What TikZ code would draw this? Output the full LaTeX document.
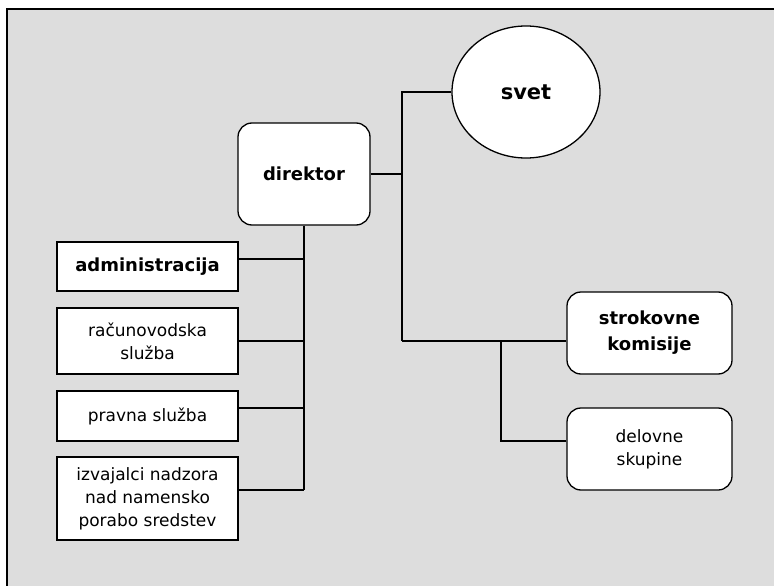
\documentclass[tikz,border=0pt]{standalone}
\usepackage{fontspec}
\setmainfont{DejaVu Sans}
\usetikzlibrary{positioning,shapes.geometric}
\definecolor{panelgray}{RGB}{221,221,221}

\begin{document}
\begin{tikzpicture}[
  x=1pt, y=1pt,
  line width=1.3pt,
  roundbox/.style={draw=black, fill=white, rounded corners=14pt, align=center, inner sep=0pt},
  plainbox/.style={draw=black, fill=white, align=center, inner sep=0pt, minimum width=181pt},
  ovalbox/.style={ellipse, draw=black, fill=white, inner sep=0pt, minimum width=148pt, minimum height=132pt},
  normtext/.style={font=\fontsize{17}{23}\selectfont},
  boldtext/.style={font=\fontsize{18}{26}\selectfont\bfseries},
  link/.style={line width=1.2pt}
]
\useasboundingbox (0,0) rectangle (774,-586);
\clip (0,0) rectangle (774,-586);

% background panel
\draw[fill=panelgray, line width=1.4pt] (7,-9) rectangle (790,-600);

% director and council
\node[roundbox, boldtext, minimum width=132pt, minimum height=102pt] (direktor) at (304,-174) {direktor};
\node[ovalbox, font=\fontsize{21}{25}\selectfont\bfseries, right of=direktor, node distance=222pt, yshift=82pt] (svet) {svet};

% right branch
\node[roundbox, boldtext, minimum width=165pt, minimum height=82pt, right of=direktor, node distance=345.5pt, yshift=-159pt] (strokovne) {strokovne\\komisije};
\node[roundbox, normtext, minimum width=165pt, minimum height=82pt, below of=strokovne, node distance=116pt] (delovne) {delovne\\skupine};

% left branch
\node[plainbox, boldtext, minimum height=49pt, left of=direktor, node distance=156.5pt, yshift=-92.5pt] (admin) {administracija};
\node[plainbox, normtext, minimum height=66pt, below of=admin, node distance=74.5pt] (racun) {računovodska\\služba};
\node[plainbox, normtext, minimum height=50pt, below of=racun, node distance=75pt] (pravna) {pravna služba};
\node[plainbox, normtext, minimum height=83pt, below of=pravna, node distance=82.5pt] (izvajalci) {izvajalci nadzora\\nad namensko\\porabo sredstev};

\coordinate (branch) at (402,-341);
\coordinate (subbranch) at (501,-341);
\coordinate (spine) at (304,-490);

% connectors
\draw[link] (svet.west) -| (branch);
\draw[link] (direktor.east) -| (branch);
\draw[link] (branch) -- ([yshift=-8pt]strokovne.west);
\draw[link] ([yshift=8pt]delovne.west) -| (subbranch);

\draw[link] (direktor.south) -- (spine);
\draw[link] ([yshift=7.5pt]admin.east) -| (spine);
\draw[link] (racun.east) -| (spine);
\draw[link] ([yshift=8pt]pravna.east) -| (spine);
\draw[link] ([yshift=8.5pt]izvajalci.east) -- (spine);

\end{tikzpicture}
\end{document}
